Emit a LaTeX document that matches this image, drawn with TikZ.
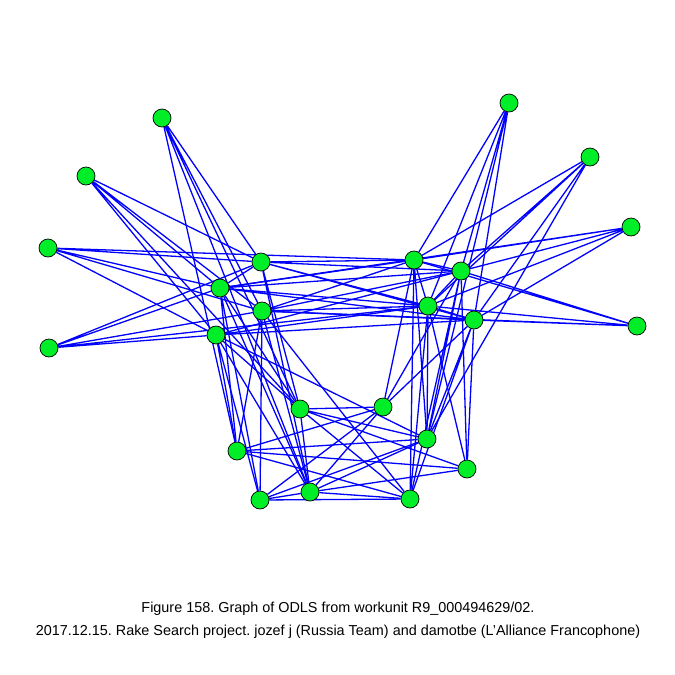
\documentclass[tikz,border=0pt]{standalone}
\usepackage{fontspec}
\setmainfont{Liberation Sans}
\usepackage{tikz}
\usetikzlibrary{backgrounds}
\definecolor{vgreen}{RGB}{0,238,40}
\frenchspacing

\begin{document}
\begin{tikzpicture}[x=1pt,y=-1pt,
    vertex/.style={circle,draw=black,fill=vgreen,line width=0.7pt,minimum size=18pt,inner sep=0pt},
    edge/.style={blue,line width=1.3pt}]
\useasboundingbox (0,0) rectangle (675,675);
% outer vertices
\node[vertex] (1) at (162,118) {};
\node[vertex] (2) at (509,103) {};
\node[vertex] (3) at (590,157) {};
\node[vertex] (4) at (86,176) {};
\node[vertex] (5) at (631,227) {};
\node[vertex] (6) at (48,248) {};
\node[vertex] (14) at (637,326) {};
\node[vertex] (15) at (49,348) {};
% middle vertices
\node[vertex] (7) at (261,262) {};
\node[vertex] (8) at (414,260) {};
\node[vertex] (9) at (461,271) {};
\node[vertex] (10) at (220,288) {};
\node[vertex] (11) at (262,311) {};
\node[vertex] (12) at (428,306) {};
\node[vertex] (13) at (474,320) {};
\node[vertex] (16) at (216,335) {};
% bottom vertices
\node[vertex] (17) at (300,409) {};
\node[vertex] (18) at (383,407) {};
\node[vertex] (19) at (427,439) {};
\node[vertex] (20) at (237,451) {};
\node[vertex] (21) at (467,469) {};
\node[vertex] (22) at (260,500) {};
\node[vertex] (23) at (310,492) {};
\node[vertex] (24) at (410,499) {};
\begin{pgfonlayer}{background}
\draw[edge] (1) -- (7) (1) -- (11) (1) -- (17) (1) -- (20) (1) -- (23);
\draw[edge] (4) -- (7) (4) -- (10) (4) -- (11) (4) -- (16) (4) -- (17);
\draw[edge] (6) -- (7) (6) -- (8) (6) -- (10) (6) -- (11) (6) -- (16);
\draw[edge] (15) -- (7) (15) -- (10) (15) -- (11) (15) -- (16) (15) -- (12);
\draw[edge] (2) -- (8) (2) -- (9) (2) -- (12) (2) -- (13) (2) -- (19);
\draw[edge] (3) -- (8) (3) -- (9) (3) -- (12) (3) -- (13) (3) -- (19);
\draw[edge] (5) -- (8) (5) -- (9) (5) -- (12) (5) -- (13) (5) -- (10);
\draw[edge] (14) -- (8) (14) -- (9) (14) -- (12) (14) -- (13) (14) -- (11);
\draw[edge] (7) -- (8) (7) -- (9) (7) -- (12) (7) -- (13) (7) -- (10) (7) -- (17) (7) -- (23);
\draw[edge] (10) -- (8) (10) -- (9) (10) -- (12) (10) -- (13) (10) -- (20) (10) -- (22) (10) -- (23) (10) -- (17);
\draw[edge] (11) -- (8) (11) -- (9) (11) -- (12) (11) -- (13) (11) -- (20) (11) -- (22) (11) -- (23) (11) -- (24);
\draw[edge] (16) -- (9) (16) -- (12) (16) -- (13) (16) -- (20) (16) -- (22) (16) -- (23) (16) -- (17) (16) -- (19);
\draw[edge] (8) -- (9) (8) -- (12) (8) -- (18) (8) -- (19) (8) -- (24);
\draw[edge] (9) -- (12) (9) -- (18) (9) -- (19) (9) -- (21) (9) -- (24);
\draw[edge] (12) -- (13) (12) -- (19) (12) -- (24) (12) -- (21);
\draw[edge] (13) -- (18) (13) -- (19) (13) -- (21) (13) -- (24);
\draw[edge] (17) -- (18) (17) -- (19) (17) -- (21) (17) -- (24) (17) -- (23);
\draw[edge] (18) -- (20) (18) -- (22) (18) -- (23);
\draw[edge] (20) -- (19) (20) -- (21) (20) -- (24);
\draw[edge] (22) -- (23) (22) -- (24) (22) -- (19);
\draw[edge] (23) -- (19) (23) -- (21) (23) -- (24);
\end{pgfonlayer}
% caption
\node[font=\fontsize{14.4}{16}\selectfont] (cap1) at (338,609) {Figure 158. Graph of ODLS from workunit R9\_000494629/02.};
\node[font=\fontsize{14.4}{16}\selectfont] (cap2) at (338,632) {2017.12.15. Rake Search project. jozef j (Russia Team) and damotbe (L'Alliance Francophone)};
\end{tikzpicture}
\end{document}
